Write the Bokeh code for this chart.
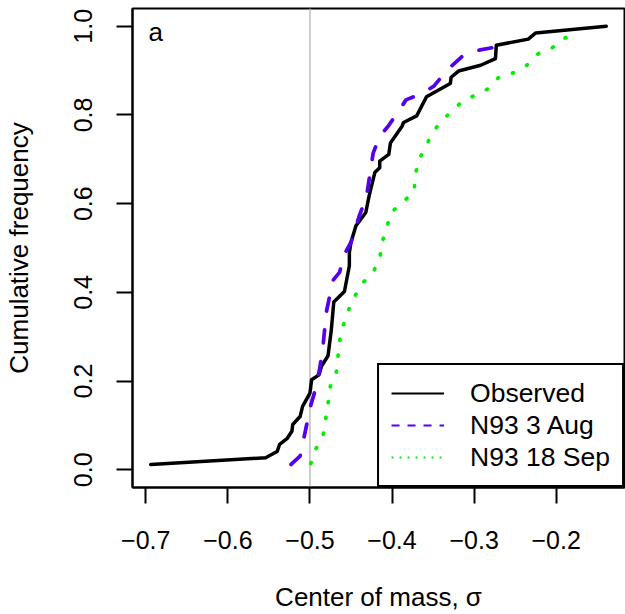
from bokeh.plotting import figure
from bokeh.models import Range1d, FixedTicker, Span, Legend, LegendItem, ColumnDataSource, Label
from bokeh.embed import file_html
from bokeh.resources import INLINE

# ---- data ----
obs_x = [-0.694, -0.554, -0.540, -0.537, -0.528, -0.522, -0.521, -0.512, -0.509, -0.500,
         -0.498, -0.489, -0.486, -0.478, -0.474, -0.471, -0.458, -0.452, -0.452, -0.450,
         -0.444, -0.432, -0.428, -0.421, -0.415, -0.415, -0.404, -0.402, -0.388, -0.386,
         -0.370, -0.358, -0.329, -0.328, -0.319, -0.292, -0.274, -0.273, -0.234, -0.225,
         -0.139]
obs_y = [0.012, 0.027, 0.041, 0.057, 0.070, 0.087, 0.102, 0.120, 0.143, 0.173,
         0.203, 0.214, 0.233, 0.257, 0.315, 0.378, 0.402, 0.460, 0.490, 0.513,
         0.550, 0.580, 0.617, 0.670, 0.681, 0.696, 0.711, 0.737, 0.774, 0.783,
         0.798, 0.841, 0.871, 0.885, 0.899, 0.912, 0.927, 0.957, 0.971, 0.985,
         1.000]

aug_x = [-0.523, -0.512, -0.504, -0.500, -0.494, -0.488, -0.484, -0.480, -0.472, -0.464,
         -0.458, -0.450, -0.440, -0.431, -0.423, -0.415, -0.405, -0.391, -0.383, -0.363,
         -0.349, -0.333, -0.311, -0.294, -0.274, -0.262]
aug_y = [0.012, 0.031, 0.102, 0.139, 0.177, 0.229, 0.281, 0.356, 0.427, 0.445,
         0.486, 0.513, 0.572, 0.617, 0.714, 0.752, 0.774, 0.811, 0.834, 0.849,
         0.865, 0.901, 0.938, 0.946, 0.953, 0.972]

sep_x = [-0.499, -0.493, -0.484, -0.478, -0.476, -0.468, -0.466, -0.464, -0.460, -0.454,
         -0.446, -0.437, -0.423, -0.415, -0.412, -0.407, -0.401, -0.387, -0.373, -0.372,
         -0.368, -0.359, -0.351, -0.341, -0.327, -0.315, -0.298, -0.282, -0.270, -0.252,
         -0.236, -0.222, -0.205, -0.192, -0.171]
sep_y = [0.014, 0.046, 0.078, 0.148, 0.184, 0.218, 0.253, 0.289, 0.322, 0.356,
         0.389, 0.419, 0.445, 0.477, 0.513, 0.544, 0.580, 0.604, 0.626, 0.662,
         0.696, 0.729, 0.758, 0.785, 0.808, 0.830, 0.845, 0.860, 0.885, 0.895,
         0.912, 0.938, 0.951, 0.972, 0.983]

x_ticks = [-0.7, -0.6, -0.5, -0.4, -0.3, -0.2]
x_tick_labels = ["\u22120.7", "\u22120.6", "\u22120.5", "\u22120.4", "\u22120.3", "\u22120.2"]
y_ticks = [0.0, 0.2, 0.4, 0.6, 0.8, 1.0]
y_tick_labels = ["0.0", "0.2", "0.4", "0.6", "0.8", "1.0"]
series_names = ["Observed", "N93 3 Aug", "N93 18 Sep"]
ref_line = -0.5
panel_tag = "a"

FONT = "Liberation Sans"

# R-style 4% padding of the data ranges
all_x = obs_x + aug_x + sep_x
xmin, xmax = min(all_x), max(all_x)
dx = (xmax - xmin) * 0.04
ymin, ymax = 0.0, 1.0
dy = (ymax - ymin) * 0.04

p = figure(width=625, height=614, output_backend="svg", toolbar_location=None,
           x_range=Range1d(xmin - dx, xmax + dx), y_range=Range1d(ymin - dy, ymax + dy),
           min_border_left=131, min_border_right=1, min_border_top=8, min_border_bottom=124)
p.grid.visible = False
p.background_fill_color = "white"
p.border_fill_color = "white"
p.outline_line_color = "black"
p.outline_line_width = 2
p.outline_line_alpha = 1.0

for ax in (p.xaxis[0], p.yaxis[0]):
    ax.axis_line_width = 2
    ax.major_tick_line_width = 2
    ax.major_tick_out = 16
    ax.major_tick_in = 0
    ax.minor_tick_out = 0
    ax.minor_tick_in = 0
    ax.major_label_text_font = FONT
    ax.major_label_text_font_size = "25px"
    ax.major_label_text_color = "black"
    ax.axis_label_text_font = FONT
    ax.axis_label_text_font_size = "26px"
    ax.axis_label_text_font_style = "normal"
    ax.axis_label_text_color = "black"

p.xaxis.ticker = FixedTicker(ticks=x_ticks)
p.xaxis.major_label_overrides = {t: l for t, l in zip(x_ticks, x_tick_labels)}
p.xaxis.major_label_standoff = 27
p.xaxis.axis_label = "Center of mass, \u03c3"
p.xaxis.axis_label_standoff = 30

p.yaxis.ticker = FixedTicker(ticks=y_ticks)
p.yaxis.major_label_overrides = {t: l for t, l in zip(y_ticks, y_tick_labels)}
p.yaxis.major_label_orientation = "vertical"
p.yaxis.major_label_standoff = 24
p.yaxis.axis_label = "Cumulative frequency"
p.yaxis.axis_label_standoff = 38

span = Span(location=ref_line, dimension="height", line_color="#BEBEBE", line_width=1.5, level="underlay")
p.add_layout(span)

BLUE = "#5500EE"
GREEN = "#00F000"

p.line(obs_x, obs_y, line_color="black", line_width=3.5, line_cap="round", line_join="round")
p.line(aug_x, aug_y, line_color=BLUE, line_width=3.75, line_dash="13 19", line_cap="round", line_join="round")
p.line(sep_x, sep_y, line_color=GREEN, line_width=3.75, line_dash="1 15", line_cap="round", line_join="round")

# thinner legend samples (as in the reference legend); no visible data
nan = float("nan")
dummy = dict(x=[nan], y=[nan])
l1 = p.line("x", "y", source=ColumnDataSource(dummy), line_color="black", line_width=2)
l2 = p.line("x", "y", source=ColumnDataSource(dummy), line_color=BLUE, line_width=2, line_dash="8 8")
l3 = p.line("x", "y", source=ColumnDataSource(dummy), line_color=GREEN, line_width=2, line_dash="2 6")

legend = Legend(items=[LegendItem(label=series_names[0], renderers=[l1]),
                       LegendItem(label=series_names[1], renderers=[l2]),
                       LegendItem(label=series_names[2], renderers=[l3])],
                location="bottom_right", margin=0, padding=12, spacing=0,
                glyph_width=53, glyph_height=32, label_height=32, label_standoff=26,
                label_text_font=FONT, label_text_font_size="26.5px", label_text_color="black",
                border_line_color="black", border_line_width=2, border_line_alpha=1.0,
                background_fill_color="white", background_fill_alpha=1.0)
p.add_layout(legend)

p.add_layout(Label(x=-0.6880, y=0.988, text=panel_tag, text_font=FONT, text_font_size="26px",
                   text_align="center", text_baseline="alphabetic", text_color="black"))

open("out.html", "w").write(file_html(p, INLINE))
